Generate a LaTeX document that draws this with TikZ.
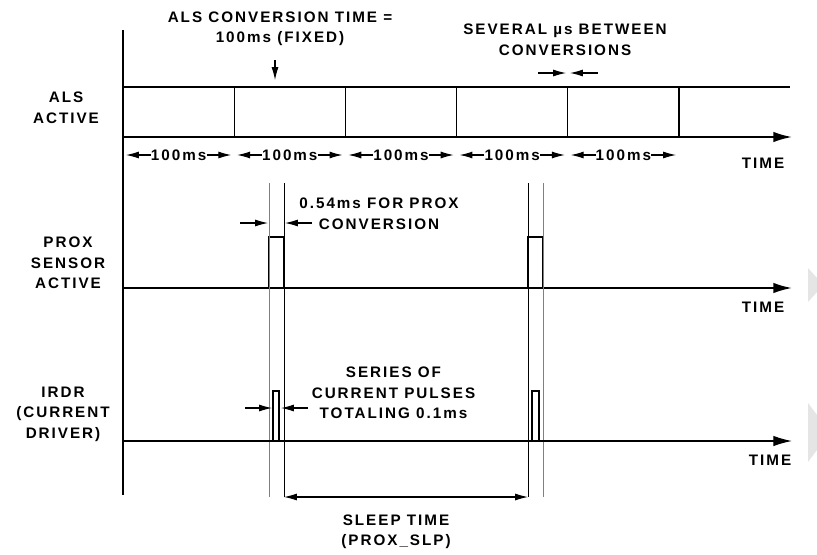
\documentclass[tikz,border=0pt]{standalone}
\usepackage{fontspec}
\setmainfont{Liberation Sans}[LetterSpace=13]
\usepackage{tikz}
\usetikzlibrary{arrows.meta,positioning}

\newcommand{\lab}{\fontsize{13}{17.5}\selectfont\bfseries}

\begin{document}
\begin{tikzpicture}[
  x=0.03cm, y=-0.03cm,
  lbl/.style={font=\lab, align=center, inner sep=0pt},
  axis/.style={line width=1.6pt, -{Latex[length=16pt,width=9pt]}},
  wave/.style={line width=1.1pt},
  guide/.style={line width=0.8pt},
  arrow/.style={line width=0.9pt, -{Latex[length=11pt,width=6pt]}},
  span/.style={line width=0.9pt, {Latex[length=11pt,width=6pt]}-{Latex[length=11pt,width=6pt]}}
]
  \useasboundingbox (0,0) rectangle (817,554);

  % time axis and row labels
  \draw[line width=1.4pt] (123,30) -- (123,495);
  \node[lbl] (als) at (66,108) {ALS\\ACTIVE};
  \node[lbl] (prox) at (68,263) {PROX\\SENSOR\\ACTIVE};
  \node[lbl] (irdr) at (63,414) {IRDR\\(CURRENT\\DRIVER)};

  % ALS row
  \draw[line width=1.2pt] (123,87) -- (790,87);
  \draw[axis] (123,137) -- (792,137);
  \foreach \i in {1,...,5}
    \draw[wave] ({123+111.2*\i},87) -- ({123+111.2*\i},137);
  \foreach \i in {0,...,4} {
    \node[lbl] (ms\i) at ({178.6+111.2*\i},155) {100ms};
    \draw[arrow] (ms\i.west) -- ({126+111.2*\i},155);
    \draw[arrow] (ms\i.east) -- ({231.2+111.2*\i},155);
  }
  \node[lbl] (timeA) at (763,163) {TIME};

  \node[lbl] (conv) at (280,29) {ALS CONVERSION TIME =\\100ms (FIXED)};
  \coordinate (convA) at (275,60);
  \coordinate (convB) at (275,80);
  \draw[arrow] (convA) -- (convB);

  \node[lbl] (sev) at (565,40) {SEVERAL µs BETWEEN\\CONVERSIONS};
  \draw[arrow] (538,73) -- (566,73);
  \draw[arrow] (598,73) -- (570,73);

  % PROX row
  \draw[axis] (123,288) -- (792,288);
  \draw[wave] (269,288) |- (284,237) -- (284,288);
  \draw[wave] (528,288) |- (543,237) -- (543,288);
  \node[lbl] (timeB) at (763,307) {TIME};

  \node[lbl] (proxconv) at (379,214) {0.54ms FOR PROX\\CONVERSION};
  \draw[arrow] (240,223) -- (268,223);
  \draw[arrow] (312,223) -- (285,223);

  % guide lines through both prox conversions
  \draw[guide, gray] (269,183) -- (269,497);
  \draw[guide] (284,183) -- (284,497);
  \draw[guide] (528,183) -- (528,497);
  \draw[guide, gray] (543,183) -- (543,497);

  % IRDR row
  \draw[axis, line width=1.1pt] (123,441) -- (792,441);
  \draw[wave] (273,441) |- (279,391) -- (279,441);
  \draw[wave] (532,441) |- (539,391) -- (539,441);
  \node[lbl] (timeC) at (770,460) {TIME};

  \node[lbl] (series) at (393.5,393) {SERIES OF\\CURRENT PULSES\\TOTALING 0.1ms};
  \draw[arrow] (245,408) -- (272,408);
  \draw[arrow] (308,408) -- (281,408);

  % sleep time
  \draw[span] (284,497) -- (528,497);
  \node[lbl] (sleep) at (396,532) {SLEEP TIME\\(PROX\_SLP)};

  % page edge marks
  \fill[gray!20] (808,268) -- (817,278) -- (817,292) -- (808,302) -- cycle;
  \fill[gray!20] (808,403) -- (817,415) -- (817,450) -- (808,462) -- cycle;
\end{tikzpicture}
\end{document}
